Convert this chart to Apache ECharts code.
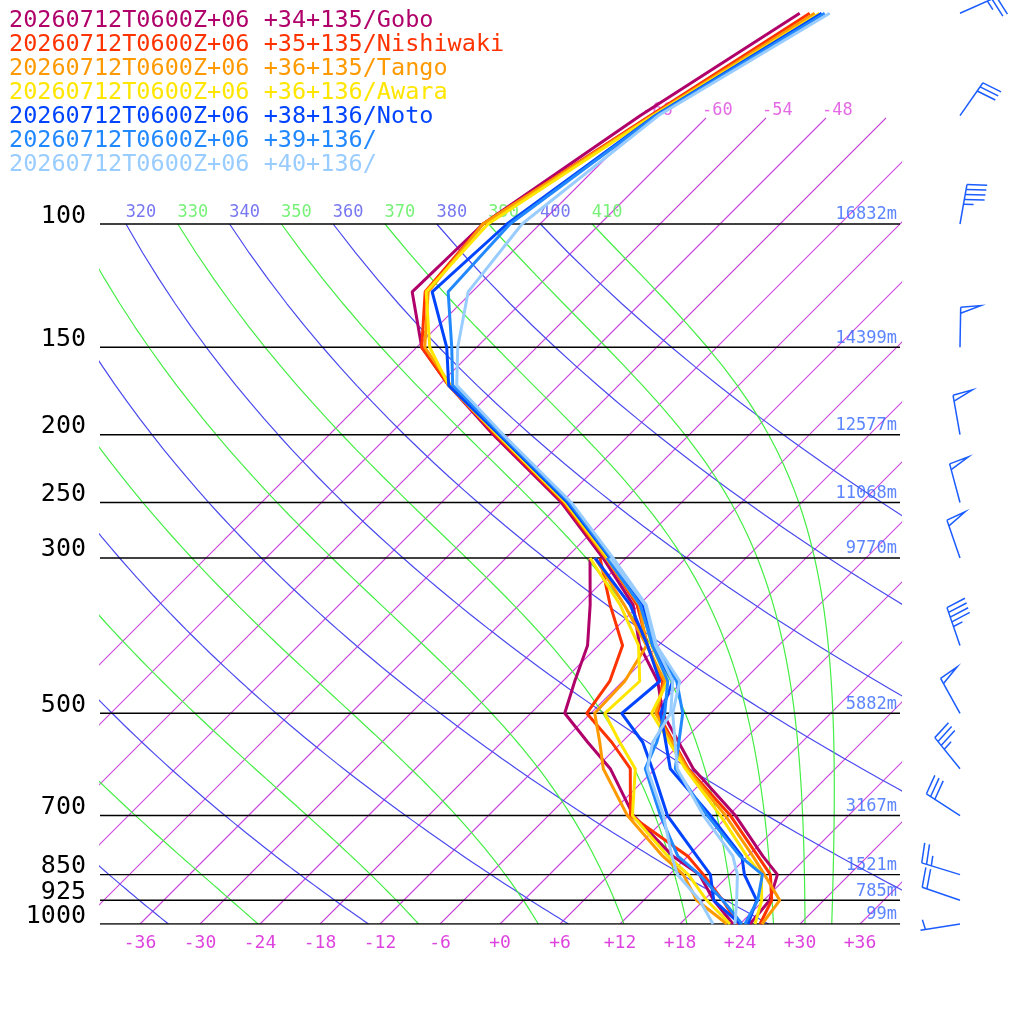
<!DOCTYPE html>
<html><head><meta charset="utf-8">
<script src="https://cdn.jsdelivr.net/npm/echarts@6/dist/echarts.min.js"></script>
<style>html,body{margin:0;padding:0;background:#fff}#c{width:1024px;height:1024px}</style>
</head><body><div id="c"></div>
<script>
const stationNames = [
 '20260712T0600Z+06 +34+135/Gobo',
 '20260712T0600Z+06 +35+135/Nishiwaki',
 '20260712T0600Z+06 +36+135/Tango',
 '20260712T0600Z+06 +36+136/Awara',
 '20260712T0600Z+06 +38+136/Noto',
 '20260712T0600Z+06 +39+136/',
 '20260712T0600Z+06 +40+136/'
];
const stationColors = ['#b0006a','#ff3300','#ff9900','#ffe600','#0044ff','#2288ff','#99ccff'];
const tLevels = [1000,925,850,800,700,600,500,450,400,350,300,250,200,170,150,125,100,70,50];
const tdLevels = [1000,925,850,800,700,600,550,500,450,400,350,300];
const tempGobo      = [25.0,24.6,22.8,19.5,12.7,3.8,-4.8,-8.5,-13.9,-18.6,-26.3,-36.0,-49.6,-59.0,-65.5,-72.0,-71.7,-66.8,-61.1];
const tempNishiwaki = [26.0,24.8,22.1,19.0,12.2,3.3,-5.3,-8.0,-13.1,-18.2,-26.0,-35.8,-49.4,-59.0,-65.5,-70.7,-71.7,-65.8,-60.1];
const tempTango     = [26.2,25.6,21.5,18.5,11.7,3.2,-5.5,-7.8,-13.2,-18.0,-26.0,-35.6,-49.2,-58.8,-65.2,-70.4,-71.7,-65.6,-59.6];
const tempAwara     = [25.5,23.8,21.2,17.9,11.2,3.0,-5.9,-7.5,-12.7,-17.8,-25.8,-35.6,-49.2,-59.0,-64.7,-70.6,-71.2,-65.5,-59.1];
const tempNoto      = [24.8,23.3,19.5,17.4,10.2,1.5,-5.0,-7.0,-12.6,-17.6,-25.6,-35.4,-49.0,-59.0,-63.0,-70.0,-69.3,-65.3,-58.9];
const temp39        = [24.5,23.4,21.3,17.2,9.9,2.0,-2.8,-6.6,-12.4,-17.4,-25.5,-35.2,-48.8,-58.6,-62.5,-68.4,-69.0,-65.2,-58.6];
const temp40        = [23.5,21.3,18.8,16.5,9.5,2.2,-3.8,-6.3,-12.2,-17.3,-25.3,-35.0,-48.6,-58.2,-61.9,-66.4,-67.8,-65.0,-58.1];
const dewGobo      = [23.3,19.0,15.0,10.5,2.5,-4.5,-9.4,-14.6,-16.8,-19.1,-22.9,-27.6];
const dewNishiwaki = [23.8,19.9,15.4,12.0,2.2,-2.5,-7.0,-12.4,-13.3,-15.6,-20.9,-26.6];
const dewTango     = [22.7,17.3,13.4,9.5,1.9,-5.2,-8.2,-11.6,-11.8,-13.2,-19.5,-27.1];
const dewAwara     = [23.0,18.3,13.9,10.0,2.4,-2.0,-6.2,-10.6,-10.3,-14.0,-19.9,-27.6];
const dewNoto      = [24.0,19.0,16.1,12.9,5.9,-0.3,-3.9,-8.9,-8.3,-13.1,-18.9,-27.1];
const dew39        = [24.2,19.9,15.0,11.0,5.2,-1.0,-2.5,-4.6,-7.5,-12.6,-17.9,-25.9];
const dew40        = [21.3,17.6,12.8,10.4,5.5,-0.8,-2.9,-4.0,-7.0,-12.3,-17.4,-25.6];
const temps = [tempGobo,tempNishiwaki,tempTango,tempAwara,tempNoto,temp39,temp40];
const dews = [dewGobo,dewNishiwaki,dewTango,dewAwara,dewNoto,dew39,dew40];
const isobarLevels = [100,150,200,250,300,500,700,850,925,1000];
const heightLabels = ['16832m','14399m','12577m','11068m','9770m','5882m','3167m','1521m','785m','99m'];
const tempTicks = [-36,-30,-24,-18,-12,-6,0,6,12,18,24,30,36];
const windLevels = [50,70,100,150,200,250,300,400,500,600,700,850,925,1000];
const windDir    = [66,35,10,1,350,345,341,341,331,321,303,287,289,261];
const windSpd    = [25,30,45,50,50,50,50,45,50,35,30,25,20,5];
const dryThetas = [200,220,240,260,280,300,320,340,360,380,400];
const moistThetas = [250,270,290,310,330,350,370,390,410];
const thetaLabels = [320,330,340,350,360,370,380,390,400,410];
const isothermLabels = [-66,-60,-54,-48];

const SKEW = 70, KAP = 0.2857;
const Yof = p => Math.log10(1000/p);
const XY = (T,p) => [T + SKEW*Yof(p), Yof(p)];
const YMAX = 924/700;

const series = [];
function bg(c, d, w){
  return {type:'line',silent:true,symbol:'none',clip:true,z:1,color:c,
    itemStyle:{color:c},lineStyle:{color:c,width:w||1.2,opacity:1},data:d};
}
const isoTop = (924-118)/700;
for (let T=-66; T<=36; T+=6) series.push(bg('#cc44dd',[[T,0],[T+SKEW*isoTop,isoTop]],1.1));
for (const th of dryThetas) {
  const d=[]; for (let p=1000;p>=100;p-=10){const T=th*Math.pow(p/1000,KAP)-273.15; d.push(XY(T,p));}
  series.push(bg('#4a4aee',d));
}
function es(Tc){return 6.112*Math.exp(17.67*Tc/(Tc+243.5));}
for (const th of moistThetas) {
  let p=100, T=th*Math.pow(0.1,KAP); const d=[];
  while (p<=1000.01) {
    if (Math.abs(p/10-Math.round(p/10))<1e-6) d.push(XY(T-273.15,p));
    const e=es(T-273.15), rs=0.622*e/(p-e);
    const dTdp=(287*T+2.5e6*rs)/(p*(1004+2.5e6*2.5e6*rs*0.622/(287*T*T)));
    T+=dTdp; p+=1;
  }
  series.push(bg('#44ee44',d));
}
isobarLevels.forEach(p=>{
  series.push({type:'line',silent:true,symbol:'none',z:2,color:'#000',lineStyle:{color:'#000',width:1.4},
    data:[[-40,Yof(p)],[40,Yof(p)]]});
});
const mono = 'DejaVu Sans Mono';
series.push({type:'scatter',symbolSize:0,silent:true,z:5,clip:false,
  data:isobarLevels.map(p=>({value:[-40,Yof(p)],label:{formatter:String(p)}})),
  label:{show:true,position:'left',distance:14,offset:[0,-8],color:'#000',opacity:1,fontFamily:mono,fontSize:25}});
series.push({type:'scatter',symbolSize:0,silent:true,z:5,
  data:isobarLevels.map((p,i)=>({value:[40,Yof(p)],label:{formatter:heightLabels[i]}})),
  label:{show:true,position:'left',distance:3,offset:[0,-9],color:'#3366ff',fontFamily:mono,fontSize:17}});
series.push({type:'scatter',symbolSize:0,silent:true,z:5,clip:false,
  data:isothermLabels.map(T=>({value:[T+SKEW*isoTop,isoTop],label:{formatter:String(T)}})),
  label:{show:true,position:'right',distance:-4,offset:[0,-7],color:'#dd44dd',fontFamily:mono,fontSize:17}});
const thY = (924-213)/700;
series.push({type:'scatter',symbolSize:0,silent:true,z:5,clip:false,
  data:thetaLabels.map(th=>({value:[th*Math.pow(0.1,KAP)-273.15+SKEW+1.5,thY],
    label:{formatter:String(th),color:(th/10)%2===0?'#5555ee':'#55ee55'}})),
  label:{show:true,position:'inside',fontFamily:mono,fontSize:17}});
for (let s=0;s<7;s++){
  const c=stationColors[s];
  series.push({name:stationNames[s],type:'line',symbol:'none',clip:false,z:10,color:c,
    lineStyle:{color:c,width:3},itemStyle:{color:c},
    data:tdLevels.map((p,i)=>XY(dews[s][i],p))});
  series.push({name:stationNames[s],type:'line',symbol:'none',clip:false,z:10,color:c,
    lineStyle:{color:c,width:3},itemStyle:{color:c},
    data:tLevels.map((p,i)=>XY(temps[s][i],p))});
}
series.push({type:'custom',silent:true,z:6,clip:false,
  data:windLevels.map((p,i)=>[46,Yof(p),windDir[i],windSpd[i]]),
  renderItem:function(params,api){
    const b=api.coord([api.value(0),api.value(1)]);
    const d=api.value(2)*Math.PI/180, spd=api.value(3);
    const ux=Math.sin(d), uy=-Math.cos(d), px=-uy, py=ux;
    const L=40, tip=[b[0]+ux*L,b[1]+uy*L];
    const st={stroke:'#1a5cff',lineWidth:1.5,fill:null};
    const ch=[{type:'line',shape:{x1:b[0],y1:b[1],x2:tip[0],y2:tip[1]},style:st}];
    let rem=Math.round(spd/5)*5, pos=0;
    while(rem>=50){const a=[tip[0]-ux*pos,tip[1]-uy*pos];
      ch.push({type:'polyline',shape:{points:[a,[a[0]+px*20+ux*2,a[1]+py*20+uy*2],[a[0]-ux*6,a[1]-uy*6]]},style:st});
      rem-=50;pos+=8;}
    while(rem>=10){const a=[tip[0]-ux*pos,tip[1]-uy*pos];
      ch.push({type:'line',shape:{x1:a[0],y1:a[1],x2:a[0]+px*20+ux*3,y2:a[1]+py*20+uy*3},style:st});
      rem-=10;pos+=5;}
    if(rem>=5){ if(pos===0)pos=5; const a=[tip[0]-ux*pos,tip[1]-uy*pos];
      ch.push({type:'line',shape:{x1:a[0],y1:a[1],x2:a[0]+px*10+ux*1.5,y2:a[1]+py*10+uy*1.5},style:st});}
    return {type:'group',children:ch};
  }});

const chart = echarts.init(document.getElementById('c'),null,{renderer:'canvas'});
chart.setOption({
  animation:false,
  backgroundColor:'#fff',
  grid:{left:100,right:124,top:0,bottom:100,containLabel:false},
  legend:{show:true,orient:'vertical',left:4,top:4,itemGap:0,itemWidth:0,itemHeight:0,icon:'none',
    selectedMode:false,
    data:stationNames.map((n,i)=>({name:n,textStyle:{color:stationColors[i]}})),
    textStyle:{fontFamily:mono,fontSize:23.5,lineHeight:24,padding:[0,0,0,-5]}},
  xAxis:{type:'value',min:-40,max:40,axisLine:{show:false},axisTick:{show:false},splitLine:{show:false},
    axisLabel:{customValues:tempTicks,margin:10,color:'#dd44dd',fontFamily:mono,fontSize:18,hideOverlap:false,
      formatter:v=>v>=0?'+'+v:String(v)}},
  yAxis:{type:'value',min:0,max:YMAX,axisLine:{show:false},axisTick:{show:false},splitLine:{show:false},
    axisLabel:{show:false}},
  series:series
});
</script></body></html>
